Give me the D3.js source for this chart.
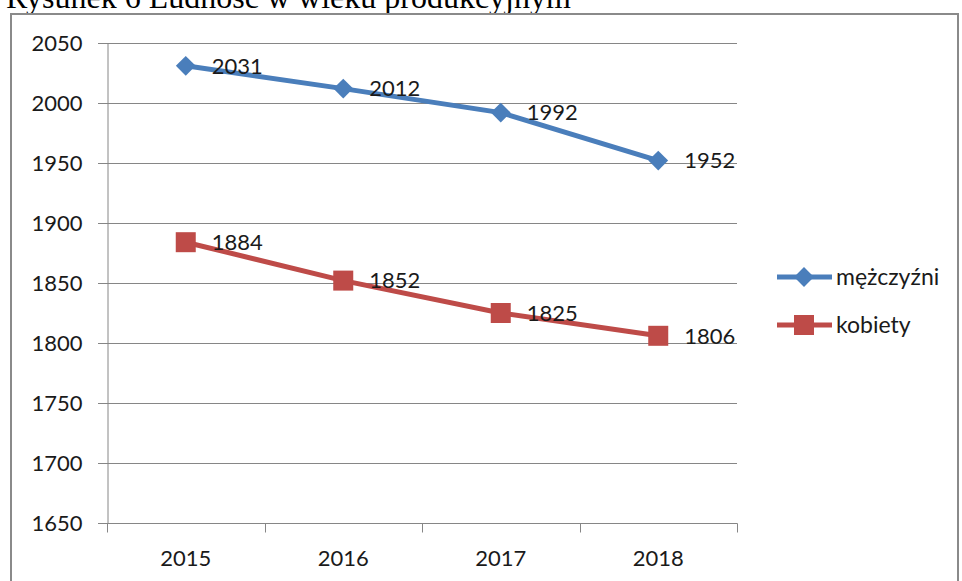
<!DOCTYPE html>
<html>
<head>
<meta charset="utf-8">
<script src="https://cdn.jsdelivr.net/npm/d3@7"></script>
<style>
  body { margin: 0; background: #fff; }
  svg { display: block; }
</style>
</head>
<body>
<div id="chart"></div>
<script>
// data
let years = ["2015", "2016", "2017", "2018"];
let men = [2031, 2012, 1992, 1952];
let women = [1884, 1852, 1825, 1806];
let seriesNames = ["mężczyźni", "kobiety"];
let yTicks = [1650, 1700, 1750, 1800, 1850, 1900, 1950, 2000, 2050];
let titleText = "Rysunek 6 Ludność w wieku produkcyjnym";

let width = 962;
let height = 581;
let plot = {left: 107, right: 737, top: 43, bottom: 523};
let colours = ["#4a7ebb", "#be4b48"];
let gridColour = "#868686";
let font = "Lato, 'Open Sans', sans-serif";

let svg = d3.select("#chart").append("svg")
            .attr("width", width)
            .attr("height", height);

//title, cut off by the top edge like in the scan
svg.append("text")
   .attr("x", 6)
   .attr("y", 8)
   .style("font-family", "'Liberation Serif', 'Times New Roman', serif")
   .style("font-size", "32px")
   .attr("fill", "#000")
   .text(titleText);

//chart border
svg.append("rect")
   .attr("x", 11)
   .attr("y", 14)
   .attr("width", 947)
   .attr("height", 580)
   .attr("fill", "none")
   .attr("stroke", "#8a8a8a")
   .attr("stroke-width", 2);

let x = d3.scaleBand().domain(years).range([plot.left, plot.right]);
let y = d3.scaleLinear().domain([1650, 2050]).range([plot.bottom, plot.top]);
let cx = d => x(d) + x.bandwidth() / 2;

//horizontal grid
let grid = svg.append("g");
yTicks.forEach(function(t) {
    grid.append("line")
        .attr("x1", plot.left - 9)
        .attr("x2", plot.right)
        .attr("y1", Math.round(y(t)) + 0.5)
        .attr("y2", Math.round(y(t)) + 0.5)
        .attr("stroke", gridColour)
        .attr("stroke-width", 1);
});

//y axis
let yAxis = svg.append("g")
               .attr("transform", "translate(" + (plot.left + 0.5) + ",0)")
               .call(d3.axisLeft(y).tickValues(yTicks).tickFormat(d3.format("d"))
                                   .tickSize(9).tickPadding(16));
yAxis.select(".domain").attr("stroke", gridColour);
yAxis.selectAll(".tick line").attr("stroke", gridColour);
yAxis.selectAll("text")
     .style("font-family", font)
     .style("font-size", "22px")
     .attr("fill", "#1a1a1a");

//x axis: ticks between the categories
let xAxis = svg.append("g")
               .attr("transform", "translate(0," + (plot.bottom + 0.5) + ")");
xAxis.append("line")
     .attr("x1", plot.left)
     .attr("x2", plot.right + 0.5)
     .attr("stroke", gridColour);
let bounds = years.map(d => x(d)).concat([plot.right]);
bounds.forEach(function(b) {
    xAxis.append("line")
         .attr("x1", Math.round(b) + 0.5)
         .attr("x2", Math.round(b) + 0.5)
         .attr("y1", 0)
         .attr("y2", 9)
         .attr("stroke", gridColour);
});
years.forEach(function(d) {
    xAxis.append("text")
         .attr("x", cx(d))
         .attr("y", 42)
         .attr("text-anchor", "middle")
         .style("font-family", font)
         .style("font-size", "22px")
         .attr("fill", "#1a1a1a")
         .text(d);
});

let line = d3.line().x((d, i) => cx(years[i])).y(d => y(d));

function marker(g, kind, px, py, colour) {
    if (kind == 0) {
        g.append("path")
         .attr("d", d3.symbol().type(d3.symbolDiamond2).size(250)())
         .attr("transform", "translate(" + px + "," + py + ")")
         .attr("fill", colour);
    } else {
        g.append("rect")
         .attr("x", px - 10)
         .attr("y", py - 10)
         .attr("width", 20)
         .attr("height", 20)
         .attr("fill", colour);
    }
}

[men, women].forEach(function(vals, k) {
    let g = svg.append("g");
    g.append("path")
     .datum(vals)
     .attr("d", line)
     .attr("fill", "none")
     .attr("stroke", colours[k])
     .attr("stroke-width", 5);
    vals.forEach(function(v, i) {
        marker(g, k, cx(years[i]), y(v), colours[k]);
    });
    vals.forEach(function(v, i) {
        g.append("text")
         .attr("x", cx(years[i]) + 26)
         .attr("y", y(v))
         .attr("dy", "0.35em")
         .style("font-family", font)
         .style("font-size", "22px")
         .attr("fill", "#1a1a1a")
         .text(v);
    });
});

//legend
let legendY = [277, 325];
seriesNames.forEach(function(name, k) {
    let g = svg.append("g");
    g.append("line")
     .attr("x1", 777)
     .attr("x2", 832)
     .attr("y1", legendY[k])
     .attr("y2", legendY[k])
     .attr("stroke", colours[k])
     .attr("stroke-width", 5);
    marker(g, k, 804, legendY[k], colours[k]);
    g.append("text")
     .attr("x", 836)
     .attr("y", legendY[k])
     .attr("dy", "0.35em")
     .style("font-family", font)
     .style("font-size", "23px")
     .attr("fill", "#1a1a1a")
     .text(name);
});
</script>
</body>
</html>
